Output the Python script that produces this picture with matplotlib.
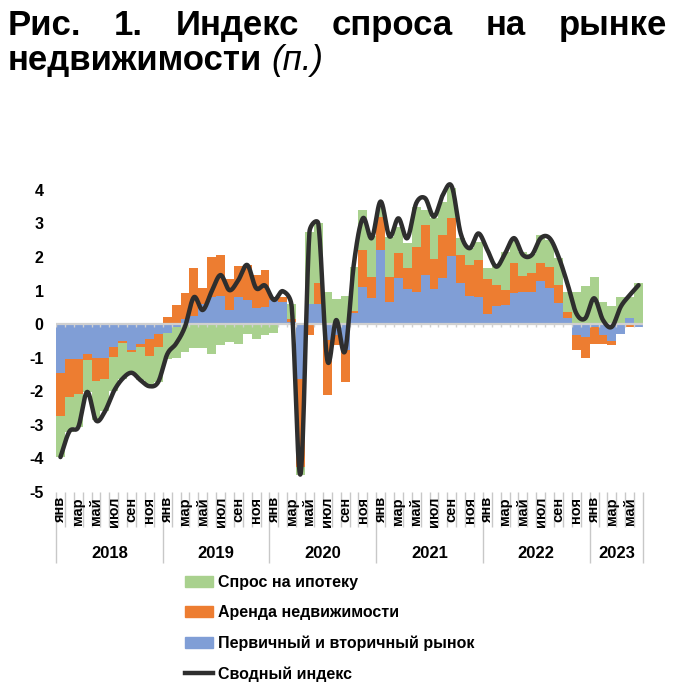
import numpy as np
import matplotlib
matplotlib.use("Agg")
import matplotlib.pyplot as plt
from matplotlib.patches import Patch
from matplotlib.lines import Line2D

plt.rcParams['font.family'] = ['Liberation Sans', 'DejaVu Sans']

# --- данные (янв 2018 - июн 2023) ---
years = ['2018', '2019', '2020', '2021', '2022', '2023']
months = ['янв', 'фев', 'мар', 'апр', 'май', 'июн',
          'июл', 'авг', 'сен', 'окт', 'ноя', 'дек']

# Первичный и вторичный рынок
primary_secondary = [
    -1.45, -1.05, -1.05, -0.88, -1.0, -1.0, -0.68, -0.5, -0.78, -0.58, -0.45, -0.28,
    -0.25, -0.1, 0.15, 0.25, 0.6, 0.8, 0.85, 0.42, 0.8, 0.72, 0.47, 0.5,
    0.72, 0.67, 0.05, -1.62, 0.6, 0.6, -0.48, -0.33, -0.78, 0.33, 1.1, 0.77,
    2.21, 0.67, 1.36, 1.06, 0.96, 1.46, 1.05, 1.37, 2.02, 1.22, 0.84, 0.82,
    0.3, 0.55, 0.57, 0.92, 0.97, 0.97, 1.28, 1.09, 0.62, 0.17, -0.33, -0.37,
    -0.1, -0.33, -0.5, -0.28, 0.17, -0.08,
]
# Аренда недвижимости
rent = [
    -1.3, -1.12, -1.02, -0.2, -0.7, -0.62, -0.3, -0.05, -0.05, -0.1, -0.5, -0.4,
    0.22, 0.57, 0.77, 1.41, 0.47, 1.2, 1.21, 0.92, 0.93, 1.03, 0.98, 1.1,
    0.08, 0.15, 0.1, -2.64, -0.33, 0.62, -1.62, -0.3, -0.94, 0.07, 1.1, 0.64,
    0.99, 0.74, 0.75, 0.6, 1.35, 1.5, 0.9, 1.29, 1.13, 0.83, 0.92, 1.09,
    1.05, 0.6, 0.44, 0.89, 0.46, 0.54, 0.55, 0.62, 0.54, 0.2, -0.45, -0.65,
    -0.5, -0.25, -0.13, 0.0, -0.08, 0.0,
]
# Спрос на ипотеку
mortgage = [
    -1.21, -1.03, -1.0, -0.94, -1.17, -0.98, -1.02, -1.07, -0.62, -0.99, -0.9, -1.04,
    -0.8, -0.9, -0.83, -0.7, -0.7, -0.9, -0.63, -0.53, -0.58, -0.28, -0.43, -0.33,
    -0.26, 0.0, 0.45, -0.24, 2.15, 1.78, 0.97, 0.76, 0.83, 1.31, 1.2, 1.2,
    0.25, 1.19, 0.79, 0.75, 1.19, 0.44, 1.2, 0.99, 0.9, 0.51, 0.5, 0.55,
    0.33, 0.6, 1.14, 0.69, 0.73, 0.59, 0.83, 0.8, 0.8, 0.58, 0.97, 1.13,
    1.4, 0.65, 0.54, 0.82, 0.65, 1.21,
]
# Сводный индекс
composite = [
    -3.96, -3.2, -3.07, -2.02, -2.87, -2.6, -2.0, -1.62, -1.45, -1.67, -1.85, -1.72,
    -0.9, -0.58, -0.08, 0.8, 0.42, 0.97, 1.46, 1.01, 1.31, 1.76, 1.07, 1.15,
    0.72, 0.98, 0.52, -4.46, 2.75, 2.98, -1.07, 0.12, -0.8, 1.81, 3.15, 2.56,
    3.65, 2.61, 3.15, 2.56, 3.6, 3.75, 3.2, 3.85, 4.1, 2.7, 2.26, 2.7,
    2.21, 1.71, 2.11, 2.56, 2.06, 2.06, 2.56, 2.56, 2.01, 1.21, 0.32, 0.17,
    0.77, 0.12, -0.08, 0.52, 0.86, 1.16,
]

BLUE = '#809ED6'
ORANGE = '#ED7D31'
GREEN = '#A9D18E'
LINE = '#2E2E2E'
GRID = '#C8C8C8'


def smooth(x, y, sx, sy, n=24, ratio=0.6):
    # сглаженная линия (Catmull-Rom в пикселях, длина ручек ограничена)
    P = np.column_stack([np.asarray(x) * sx, np.asarray(y) * sy]).astype(float)
    m = len(P)
    T = np.zeros_like(P)
    for i in range(m):
        a = P[max(i - 1, 0)]
        b = P[min(i + 1, m - 1)]
        T[i] = (b - a) / 2 if 0 < i < m - 1 else (b - a)
    t = np.linspace(0, 1, n, endpoint=False)[:, None]
    out = []
    for i in range(m - 1):
        p1, p2 = P[i], P[i + 1]
        L = np.hypot(*(p2 - p1)) * ratio
        h1 = T[i] / 3
        h2 = T[i + 1] / 3
        if np.hypot(*h1) > L:
            h1 = h1 / np.hypot(*h1) * L
        if np.hypot(*h2) > L:
            h2 = h2 / np.hypot(*h2) * L
        c1 = p1 + h1
        c2 = p2 - h2
        seg = ((1 - t) ** 3 * p1 + 3 * (1 - t) ** 2 * t * c1
               + 3 * (1 - t) * t ** 2 * c2 + t ** 3 * p2)
        out.append(seg)
    out.append(P[-1][None, :])
    out = np.vstack(out)
    return out[:, 0] / sx, out[:, 1] / sy


n = len(composite)
x = np.arange(n)

fig = plt.figure(figsize=(6.8, 6.87), dpi=100)
W, H = 680, 687
ax = fig.add_axes([56 / W, 1 - 492 / H, (643 - 56) / W, (492 - 173) / H])
ax.set_xlim(-0.5, n - 0.5)
ax.set_ylim(-5, 4.5)

pos_base = np.zeros(n)
neg_base = np.zeros(n)
for vals, color in [(primary_secondary, BLUE), (rent, ORANGE), (mortgage, GREEN)]:
    v = np.array(vals)
    bottom = np.where(v >= 0, pos_base, neg_base)
    ax.bar(x, v, bottom=bottom, width=1.0, color=color, linewidth=0, zorder=2)
    pos_base += np.clip(v, 0, None)
    neg_base += np.clip(v, None, 0)

# нулевая линия с засечками
bounds = np.arange(-0.5, n, 1.0)
ax.axhline(0, color='#D0D0D0', lw=1.6, zorder=3)
ax.vlines(bounds, 0, -0.09, color='#D0D0D0', lw=1.0, zorder=3)

# масштаб пикселей на единицу по осям
px_x = (643 - 56) / n
px_y = (492 - 173) / 9.5
xs, ys = smooth(x, composite, px_x, px_y)
ax.plot(xs, ys, color=LINE, lw=3.2, solid_capstyle='round', zorder=4)

for s in ax.spines.values():
    s.set_visible(False)

ax.set_yticks(range(-5, 5))
ax.set_yticklabels([str(v) for v in range(-5, 5)], fontsize=11.5, fontweight='bold')
ax.tick_params(axis='y', length=0, pad=9)

# разделители месяцев и лет на оси категорий
year_bounds = [-0.5] + [12 * k - 0.5 for k in range(1, len(years))] + [n - 0.5]
ax.set_xticks(year_bounds)
ax.set_xticks(bounds, minor=True)
ax.tick_params(axis='x', which='major', length=51, width=1.0, color=GRID,
               direction='out', labelbottom=False)
ax.tick_params(axis='x', which='minor', length=25, width=1.0, color=GRID,
               direction='out', labelbottom=False)

trans = ax.get_xaxis_transform()
for i in range(0, n, 2):
    ax.text(i, -0.016, months[i % 12], transform=trans, rotation=90,
            ha='center', va='top', fontsize=10.5, fontweight='bold')
for k, yr in enumerate(years):
    lo = year_bounds[k]
    hi = year_bounds[k + 1]
    ax.text((lo + hi) / 2, -0.192, yr, transform=trans, ha='center', va='center',
            fontsize=12, fontweight='bold')

# заголовок, первая строка выровнена по ширине
words = ['Рис.', '1.', 'Индекс', 'спроса', 'на', 'рынке']
title_size = 25
renderer = fig.canvas.get_renderer()
objs = [fig.text(0, 1 - 35 / H, w, fontsize=title_size, fontweight='bold',
                 va='baseline', ha='left') for w in words]
widths = [o.get_window_extent(renderer).width for o in objs]
left, right = 8, 667
gap = (right - left - sum(widths)) / (len(words) - 1)
pos = left
for o, w in zip(objs, widths):
    o.set_x(pos / W)
    pos += w + gap

t2 = fig.text(8 / W, 1 - 70 / H, 'недвижимости', fontsize=title_size,
              fontweight='bold', va='baseline', ha='left')
w2 = t2.get_window_extent(renderer).width
fig.text((8 + w2 + 9) / W, 1 - 70 / H, '(п.)', fontsize=title_size,
         style='italic', va='baseline', ha='left')

handles = [Patch(color=GREEN), Patch(color=ORANGE), Patch(color=BLUE),
           Line2D([], [], color=LINE, lw=3.2)]
labels = ['Спрос на ипотеку', 'Аренда недвижимости',
          'Первичный и вторичный рынок', 'Сводный индекс']
fig.legend(handles, labels, loc='upper left', bbox_to_anchor=(185 / W, 1 - 575 / H),
           frameon=False, prop={'size': 11.5, 'weight': 'bold'},
           handlelength=1.75, handleheight=0.65, handletextpad=0.3,
           labelspacing=0.95, borderaxespad=0, borderpad=0)

fig.savefig('out.png', dpi=100)
